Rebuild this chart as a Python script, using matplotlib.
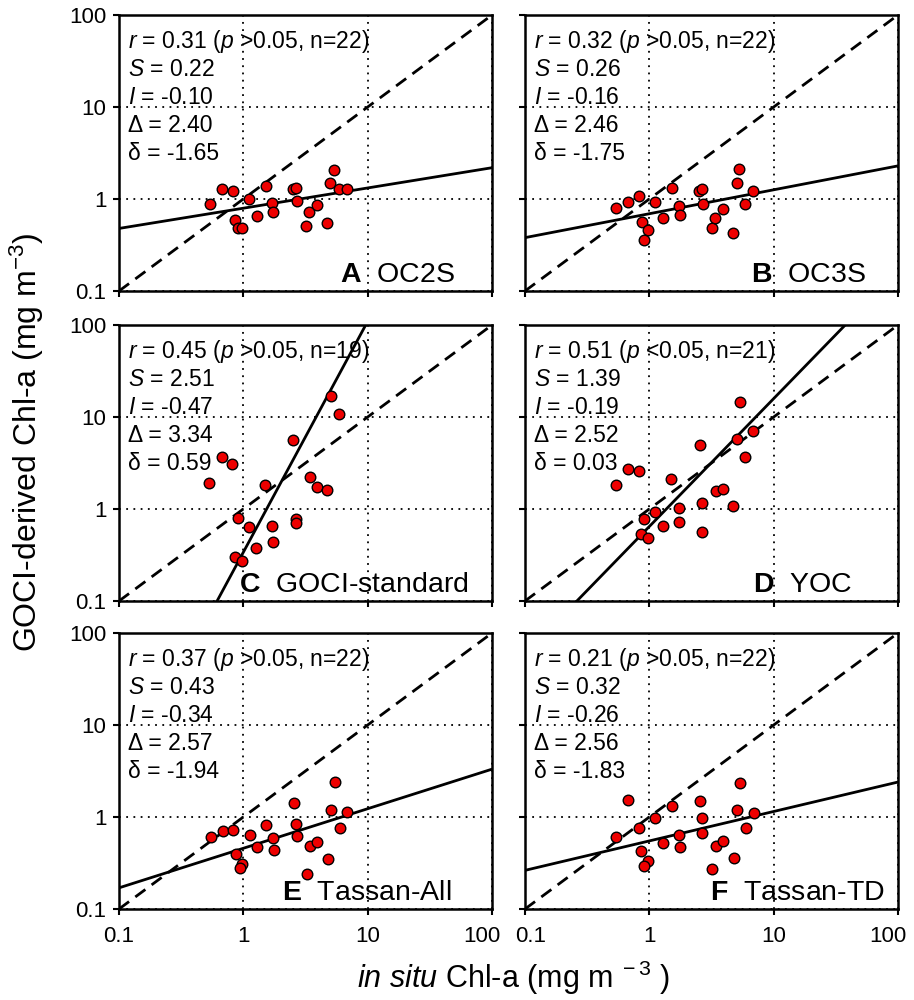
import numpy as np
import matplotlib
matplotlib.use('Agg')
import matplotlib.pyplot as plt
from matplotlib import ticker
from matplotlib.transforms import ScaledTranslation

plt.rcParams['font.family'] = ['Liberation Sans', 'DejaVu Sans']
plt.rcParams['mathtext.fontset'] = 'custom'
plt.rcParams['mathtext.rm'] = 'Liberation Sans'
plt.rcParams['mathtext.it'] = 'Liberation Sans:italic'
plt.rcParams['mathtext.bf'] = 'Liberation Sans:bold'

# in situ (x) vs GOCI-derived (y) Chl-a
a_x = [0.54, 0.67, 0.82, 0.86, 0.91, 0.97, 1.12, 1.28, 1.51, 1.71, 1.74, 2.52, 2.65, 2.69, 3.19, 3.40, 3.89, 4.74, 5.01, 5.40, 5.92, 6.82]
a_y = [0.88, 1.30, 1.23, 0.59, 0.49, 0.48, 1.00, 0.66, 1.37, 0.90, 0.73, 1.28, 1.33, 0.95, 0.51, 0.72, 0.85, 0.55, 1.51, 2.08, 1.28, 1.28]

b_x = [0.54, 0.67, 0.82, 0.87, 0.97, 0.91, 1.12, 1.29, 1.52, 1.73, 1.75, 2.53, 2.65, 2.69, 3.18, 3.40, 3.90, 4.75, 5.05, 5.31, 5.93, 6.83]
b_y = [0.80, 0.92, 1.09, 0.56, 0.46, 0.36, 0.93, 0.62, 1.32, 0.83, 0.67, 1.23, 1.30, 0.89, 0.49, 0.62, 0.78, 0.43, 1.48, 2.14, 0.88, 1.23]

c_x = [0.53, 0.67, 0.81, 0.91, 1.12, 0.85, 0.97, 1.26, 1.50, 1.71, 1.73, 2.50, 2.67, 2.67, 3.41, 3.88, 4.73, 5.03, 5.91]
c_y = [1.91, 3.66, 3.10, 0.79, 0.63, 0.30, 0.27, 0.38, 1.81, 0.66, 0.44, 5.56, 0.77, 0.70, 2.25, 1.75, 1.60, 16.8, 10.9]

d_x = [0.54, 0.67, 0.82, 0.91, 0.86, 0.98, 1.11, 1.28, 1.50, 1.73, 1.74, 2.54, 2.67, 2.63, 3.42, 3.89, 4.74, 5.36, 5.07, 5.92, 6.86]
d_y = [1.81, 2.70, 2.59, 0.77, 0.54, 0.49, 0.93, 0.66, 2.14, 1.03, 0.73, 4.92, 1.17, 0.56, 1.57, 1.65, 1.08, 14.6, 5.72, 3.64, 6.98]

e_x = [0.55, 0.68, 0.82, 0.87, 0.98, 0.94, 1.13, 1.29, 1.52, 1.73, 1.75, 2.54, 2.67, 2.70, 3.24, 3.42, 3.94, 4.77, 5.05, 5.43, 5.96, 6.87]
e_y = [0.60, 0.70, 0.73, 0.40, 0.31, 0.28, 0.64, 0.47, 0.81, 0.59, 0.44, 1.42, 0.83, 0.62, 0.24, 0.49, 0.54, 0.35, 1.18, 2.39, 0.76, 1.12]

f_x = [0.54, 0.67, 0.82, 0.86, 0.98, 0.91, 1.11, 1.28, 1.51, 1.73, 1.76, 2.54, 2.65, 2.65, 3.19, 3.43, 3.91, 4.76, 5.07, 5.36, 5.95, 6.90]
f_y = [0.61, 1.53, 0.75, 0.43, 0.33, 0.29, 0.97, 0.52, 1.31, 0.64, 0.47, 1.48, 0.97, 0.67, 0.27, 0.49, 0.55, 0.36, 1.19, 2.37, 0.75, 1.10]

panel_x = [a_x, b_x, c_x, d_x, e_x, f_x]
panel_y = [a_y, b_y, c_y, d_y, e_y, f_y]
letters = ['A', 'B', 'C', 'D', 'E', 'F']
names = ['OC2S', 'OC3S', 'GOCI-standard', 'YOC', 'Tassan-All', 'Tassan-TD']
r_vals = ['0.31', '0.32', '0.45', '0.51', '0.37', '0.21']
p_signs = ['>', '>', '>', '<', '>', '>']
n_vals = [22, 22, 19, 21, 22, 22]
slopes = [0.22, 0.26, 2.51, 1.39, 0.43, 0.32]
intercepts = [-0.10, -0.16, -0.47, -0.19, -0.34, -0.26]
big_delta = ['2.40', '2.46', '3.34', '2.52', '2.57', '2.56']
small_delta = ['-1.65', '-1.75', '0.59', '0.03', '-1.94', '-1.83']
ticks = [0.1, 1, 10, 100]
tick_labels = ['0.1', '1', '10', '100']

# label placement (axes fraction of the bold letter)
label_x = [0.593, 0.606, 0.322, 0.611, 0.437, 0.496]

fig = plt.figure(figsize=(9.14, 10), dpi=100)
lefts = [0.1302, 0.5744]
bottoms = [0.709, 0.399, 0.091]
w, h = 0.4081, 0.276

for i in range(6):
    row, col = i // 2, i % 2
    ax = fig.add_axes([lefts[col], bottoms[row], w, h])
    ax.set_xscale('log')
    ax.set_yscale('log')
    ax.set_xlim(0.1, 100)
    ax.set_ylim(0.1, 100)
    ax.xaxis.set_major_locator(ticker.FixedLocator(ticks))
    ax.yaxis.set_major_locator(ticker.FixedLocator(ticks))
    ax.xaxis.set_minor_locator(ticker.NullLocator())
    ax.yaxis.set_minor_locator(ticker.NullLocator())
    if row == 2:
        ax.set_xticklabels(tick_labels)
    else:
        ax.set_xticklabels([])
    if col == 0:
        ax.set_yticklabels(tick_labels)
    else:
        ax.set_yticklabels([])
    ax.tick_params(direction='out', length=4, width=1.5, labelsize=16, pad=5, colors='black')
    ax.tick_params(axis='x', pad=8)
    # nudge the end labels inward so neighbouring panels don't collide
    if row == 2:
        xlabs = ax.get_xticklabels()
        if col == 1:
            xlabs[0].set_transform(xlabs[0].get_transform() + ScaledTranslation(4 / 72, 0, fig.dpi_scale_trans))
        xlabs[-1].set_transform(xlabs[-1].get_transform() + ScaledTranslation(-7 / 72, 0, fig.dpi_scale_trans))
    for sp in ax.spines.values():
        sp.set_linewidth(1.8)
        sp.set_color('black')
    ax.grid(True, color='black', linestyle=(0, (1, 3)), linewidth=1.3)

    # 1:1 line and regression line
    xx = np.array([0.1, 100])
    ax.plot(xx, xx, color='black', linewidth=2, linestyle=(0, (4.5, 2.8)), zorder=2)
    ax.plot(xx, 10 ** intercepts[i] * xx ** slopes[i], color='black', linewidth=2, zorder=2)
    ax.scatter(panel_x[i], panel_y[i], s=58, facecolor='#ee0000', edgecolor='black', linewidth=1, zorder=3)

    lines = [r'$\mathit{r}$ = %s ($\mathit{p}$ %s0.05, n=%d)' % (r_vals[i], p_signs[i], n_vals[i]),
             r'$\mathit{S}$ = %.2f' % slopes[i],
             r'$\mathit{I}$ = %.2f' % intercepts[i],
             'Δ = ' + big_delta[i],
             'δ = ' + small_delta[i]]
    for k, txt in enumerate(lines):
        ax.text(0.024, 0.880 - k * 0.1015, txt, transform=ax.transAxes, fontsize=16.5, va='baseline', ha='left')
    ax.text(label_x[i], 0.033, r'$\mathbf{%s}$  %s' % (letters[i], names[i]), transform=ax.transAxes,
            fontsize=20.5, va='baseline', ha='left')

fig.text(0.029, 0.558, r'GOCI-derived Chl-a (mg m$^{-3}$)', rotation=90, fontsize=23, ha='center', va='center')
fig.text(0.562, 0.022, r'$\mathit{in\ situ}$ Chl-a (mg m$^{\ -3}$ )', fontsize=22, ha='center', va='center')

plt.savefig('out.png', dpi=100)
